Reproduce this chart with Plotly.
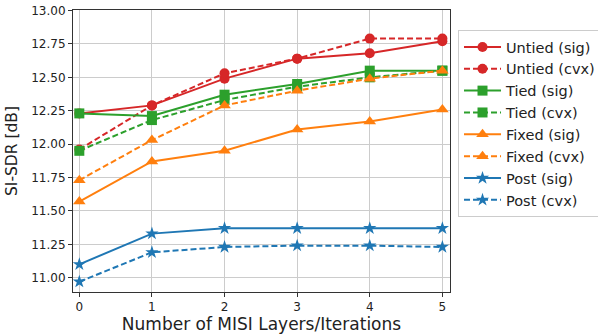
import plotly.graph_objects as go

x_vals = [0, 1, 2, 3, 4, 5]
untied_sig = [12.23, 12.29, 12.49, 12.64, 12.68, 12.77]
untied_cvx = [11.96, 12.29, 12.53, 12.64, 12.79, 12.79]
tied_sig = [12.23, 12.21, 12.37, 12.45, 12.55, 12.55]
tied_cvx = [11.95, 12.18, 12.33, 12.43, 12.50, 12.55]
fixed_sig = [11.57, 11.87, 11.95, 12.11, 12.17, 12.26]
fixed_cvx = [11.73, 12.03, 12.29, 12.40, 12.49, 12.55]
post_sig = [11.10, 11.33, 11.37, 11.37, 11.37, 11.37]
post_cvx = [10.97, 11.19, 11.23, 11.24, 11.24, 11.23]

y_ticks = [11.00, 11.25, 11.50, 11.75, 12.00, 12.25, 12.50, 12.75, 13.00]

series = [
    ("Untied (sig)", untied_sig, "#d62728", "solid", "circle", 10),
    ("Untied (cvx)", untied_cvx, "#d62728", "dash", "circle", 10),
    ("Tied (sig)", tied_sig, "#2ca02c", "solid", "square", 10),
    ("Tied (cvx)", tied_cvx, "#2ca02c", "dash", "square", 10),
    ("Fixed (sig)", fixed_sig, "#ff7f0e", "solid", "triangle-up", 11),
    ("Fixed (cvx)", fixed_cvx, "#ff7f0e", "dash", "triangle-up", 11),
    ("Post (sig)", post_sig, "#1f77b4", "solid", "star", 10),
    ("Post (cvx)", post_cvx, "#1f77b4", "dash", "star", 10),
]

fig = go.Figure()
for name, ys, color, dash, sym, size in series:
    fig.add_trace(go.Scatter(
        x=x_vals, y=ys, name=name, mode="lines+markers",
        line=dict(color=color, width=2, dash="6px,3px" if dash == "dash" else "solid"),
        marker=dict(symbol=sym, size=size, color=color, line=dict(width=0)),
    ))

fig.update_layout(
    width=598, height=334,
    margin=dict(l=73, r=148, t=10, b=42),
    paper_bgcolor="white", plot_bgcolor="white",
    font=dict(family="DejaVu Sans", color="#222222", size=12),
    showlegend=True,
    legend=dict(
        xref="container", yref="container",
        x=0.7659, y=0.9102, xanchor="left", yanchor="top",
        font=dict(size=14.5, color="#222222"),
        bordercolor="#cccccc", borderwidth=1, bgcolor="white",
        tracegroupgap=0, itemwidth=37, maxheight=600,
    ),
)
fig.update_xaxes(
    range=[-0.087, 5.105], tickmode="array", tickvals=x_vals,
    ticktext=[str(v) for v in x_vals],
    showgrid=True, gridcolor="#cccccc", gridwidth=1,
    showline=True, linecolor="#333333", linewidth=1, mirror=True,
    ticks="outside", ticklen=4, tickcolor="#333333",
    tickfont=dict(size=12), ticklabeloverflow="allow",
    title=dict(text="Number of MISI Layers/Iterations", font=dict(size=17), standoff=2),
    zeroline=False, automargin=False,
)
fig.update_yaxes(
    range=[10.893, 13.004], tickmode="array", tickvals=y_ticks,
    ticktext=["%.2f" % v for v in y_ticks],
    showgrid=True, gridcolor="#cccccc", gridwidth=1,
    showline=True, linecolor="#333333", linewidth=1, mirror=True,
    ticks="outside", ticklen=4, tickcolor="#333333",
    tickfont=dict(size=12), ticklabeloverflow="allow",
    title=dict(text="SI-SDR [dB]", font=dict(size=15.5), standoff=9),
    zeroline=False, automargin=False,
)

# remove the default 8px page margin so the figure fills the window exactly
fig.write_html("out.html", config={"displayModeBar": False},
               post_script="document.body.style.margin='0';")
